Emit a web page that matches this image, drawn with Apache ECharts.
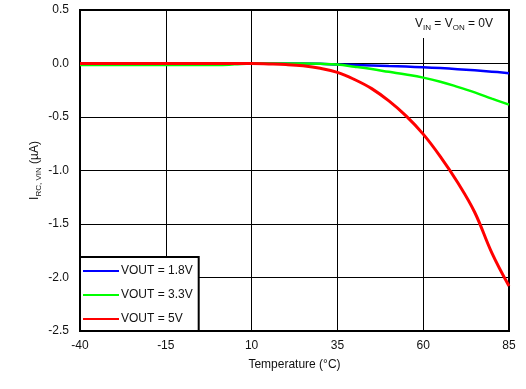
<!DOCTYPE html>
<html>
<head>
<meta charset="utf-8">
<script src="https://cdn.jsdelivr.net/npm/echarts@6/dist/echarts.min.js"></script>
<style>html,body{margin:0;padding:0;background:#fff}#c{width:526px;height:389px}</style>
</head>
<body>
<div id="c"></div>
<script>
const temps = [-40,-35,-30,-25,-20,-15,-10,-5,0,5,10,15,20,25,30,35,40,45,50,55,60,65,70,75,80,85];
const vout18 = [0,0,0,0,0,0,0,0,0,0,0,0,0,0,-0.003,-0.01,-0.014,-0.019,-0.024,-0.029,-0.035,-0.043,-0.053,-0.064,-0.076,-0.09];
const vout33 = [-0.014,-0.014,-0.014,-0.014,-0.014,-0.014,-0.014,-0.014,-0.014,-0.008,0,0,0,0,-0.003,-0.01,-0.03,-0.052,-0.078,-0.103,-0.132,-0.17,-0.218,-0.27,-0.328,-0.385];
const vout5 = [0,0,0,0,0,0,0,0,0,0,0,-0.004,-0.01,-0.022,-0.045,-0.083,-0.15,-0.235,-0.35,-0.49,-0.66,-0.87,-1.11,-1.39,-1.77,-2.08];
const seriesNames = ['VOUT = 1.8V','VOUT = 3.3V','VOUT = 5V'];
const xTicks = {min:-40, max:85, step:25};
const yTicks = {min:-2.5, max:0.5, step:0.5};

const pairs = arr => temps.map((t,i)=>[t,arr[i]]);
const chart = echarts.init(document.getElementById('c'), null, {renderer:'canvas'});
const font = 'Liberation Sans, Arial, sans-serif';
chart.setOption({
  animation:false,
  textStyle:{fontFamily:font},
  grid:{left:80,right:17,top:10,bottom:58,show:true,borderColor:'#000',borderWidth:2,backgroundColor:'transparent'},
  xAxis:{type:'value',min:xTicks.min,max:xTicks.max,interval:xTicks.step,
    name:'Temperature (°C)',nameLocation:'middle',nameGap:28,nameMoveOverlap:false,
    nameTextStyle:{fontFamily:font,fontSize:12,color:'#111'},
    axisLine:{show:false},axisTick:{show:false},
    axisLabel:{fontFamily:font,fontSize:12,color:'#111',margin:9},
    splitLine:{show:true,lineStyle:{color:'#000',width:1}}},
  yAxis:{type:'value',min:yTicks.min,max:yTicks.max,interval:yTicks.step,
    name:'{n|I}{s|RC, VIN}{n| (µA)}',nameLocation:'middle',nameGap:37,nameMoveOverlap:false,
    nameTextStyle:{fontFamily:font,color:'#111',rich:{
      n:{fontFamily:font,fontSize:12,color:'#111',lineHeight:16,verticalAlign:'middle'},
      s:{fontFamily:font,fontSize:8,color:'#111',lineHeight:16,verticalAlign:'bottom',padding:[5,0,0,0]}}},
    axisLine:{show:false},axisTick:{show:false},
    axisLabel:{fontFamily:font,fontSize:12,color:'#111',margin:11,formatter:v=>v.toFixed(1)},
    splitLine:{show:true,lineStyle:{color:'#000',width:1}}},
  legend:{orient:'vertical',left:80,top:257,width:118,
    backgroundColor:'#fff',borderColor:'#000',borderWidth:2,borderRadius:0,
    padding:[8,6,6,3],itemGap:12,itemWidth:36,itemHeight:2,icon:'rect',
    textStyle:{fontFamily:font,fontSize:12,color:'#111',padding:[0,0,0,-3]},
    data:seriesNames},
  graphic:[
    {type:'rect',left:408,top:11,z:50,shape:{width:92,height:27},style:{fill:'#fff'}},
    {type:'text',left:415,top:18,z:51,style:{
      text:'{n|V}{s|IN}{n| = V}{s|ON}{n| = 0V}',
      rich:{n:{fontFamily:font,fontSize:12,fill:'#111',lineHeight:16,verticalAlign:'middle'},
            s:{fontFamily:font,fontSize:8,fill:'#111',lineHeight:16,verticalAlign:'bottom',padding:[6,0,0,0]}}}}
  ],
  series:[
    {name:seriesNames[0],type:'line',data:pairs(vout18),smooth:0.4,showSymbol:false,symbol:'none',lineStyle:{color:'#0000ff',width:2.5},itemStyle:{color:'#0000ff'},z:2},
    {name:seriesNames[1],type:'line',data:pairs(vout33),smooth:0.4,showSymbol:false,symbol:'none',lineStyle:{color:'#00ff00',width:2.5},itemStyle:{color:'#00ff00'},z:3},
    {name:seriesNames[2],type:'line',data:pairs(vout5),smooth:0.4,showSymbol:false,symbol:'none',lineStyle:{color:'#ff0000',width:3},itemStyle:{color:'#ff0000'},z:4}
  ]
});
</script>
</body>
</html>
